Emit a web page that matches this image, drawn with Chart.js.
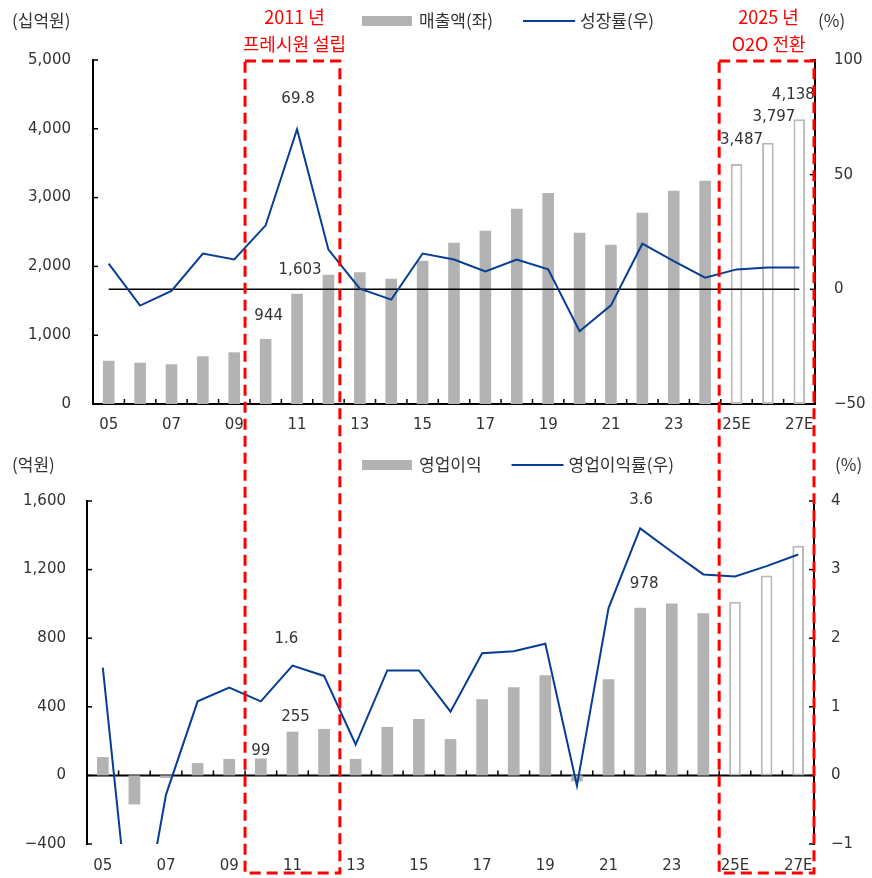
<!DOCTYPE html>
<html>
<head>
<meta charset="utf-8">
<script src="https://cdn.jsdelivr.net/npm/chart.js@4.4.1/dist/chart.umd.min.js"></script>
<style>
    body { margin: 0; background: #fff; }
    #wrap { position: relative; width: 872px; height: 878px; }
    #graficoVendas { position: absolute; left: 0; top: 0; }
    #graficoLucro { position: absolute; left: 0; top: 440px; }
    #camadaCaixas { position: absolute; left: 0; top: 0; pointer-events: none; }
</style>
</head>
<body>
<div id="wrap">
    <canvas id="graficoVendas" width="872" height="440"></canvas>
    <canvas id="graficoLucro" width="872" height="438"></canvas>
    <canvas id="camadaCaixas" width="872" height="878"></canvas>
</div>
<script>
// dados
const years = ['05', '06', '07', '08', '09', '10', '11', '12', '13', '14', '15', '16',
    '17', '18', '19', '20', '21', '22', '23', '24', '25E', '26E', '27E'];
const sales = [629, 600, 577, 693, 751, 944, 1603, 1880, 1914, 1822, 2083, 2345,
    2519, 2839, 3067, 2490, 2316, 2781, 3100, 3246, 3487, 3797, 4138];
const salesGrowth = [11.2, -7.1, -0.7, 15.6, 13.0, 27.9, 69.8, 17.3, 0.3, -4.5, 15.6, 13.0,
    7.8, 13.0, 8.7, -18.3, -7.0, 19.9, 12.3, 5.1, 8.7, 9.5, 9.5];
const opProfit = [107, -169, -15, 72, 96, 99, 255, 271, 96, 283, 329, 212,
    444, 514, 584, -35, 560, 978, 1002, 946, 1012, 1166, 1339];
const opMargin = [1.57, -2.85, -0.28, 1.08, 1.28, 1.08, 1.6, 1.45, 0.45, 1.53, 1.53, 0.93,
    1.78, 1.81, 1.92, -0.15, 2.44, 3.6, 3.26, 2.93, 2.9, 3.05, 3.22];

const salesLabelAt = [5, 6, 20, 21, 22];
const growthLabelAt = [6];
const profitLabelAt = [5, 6, 17];
const marginLabelAt = [6, 17];

const boxes = [
    { from: '10', to: '12', text: ['2011 년', '프레시원 설립'] },
    { from: '25E', to: '27E', text: ['2025 년', 'O2O 전환'] }
];

const NUM_FONT = "15px 'DejaVu Sans', 'Noto Sans CJK KR'";
const KR_FONT = "17px 'Noto Sans CJK KR', 'DejaVu Sans'";
const GRAY = '#b3b3b3';
const BLUE = '#063d95';
const TEXT = '#333';

Chart.defaults.font.family = "'DejaVu Sans', 'Noto Sans CJK KR'";
Chart.defaults.font.size = 15;
Chart.defaults.color = TEXT;

const isEst = years.map((y) => y.endsWith('E'));

function formater(v) {
    const s = Math.abs(v).toLocaleString('en-US');
    return v < 0 ? '\u2212' + s : s;
}

function linha(ctx, x1, y1, x2, y2) {
    ctx.beginPath();
    ctx.moveTo(x1, y1);
    ctx.lineTo(x2, y2);
    ctx.stroke();
}

// eixos, marcas internas, linha zero e unidades
const moldura = {
    id: 'moldura',
    beforeDatasetsDraw(chart, args, opts) {
        const { ctx, chartArea: a, scales } = chart;
        const base = scales.y.getPixelForValue(0);
        ctx.save();
        ctx.strokeStyle = '#000';
        if (opts.zeroLine) {
            ctx.lineWidth = 2;
            linha(ctx, a.left, base, a.right, base);
        }
        ctx.lineWidth = 1.5;
        for (let i = 1; i < years.length; i++) {
            const px = scales.x.getPixelForValue(i - 0.5);
            linha(ctx, px, base, px, base - 5);
        }
        scales.y.ticks.forEach((t) => {
            const py = scales.y.getPixelForValue(t.value);
            linha(ctx, a.left, py, a.left + 5, py);
        });
        scales.y1.ticks.forEach((t) => {
            const py = scales.y1.getPixelForValue(t.value);
            linha(ctx, a.right - 5, py, a.right, py);
        });
        ctx.restore();
    },
    beforeDatasetDraw(chart, args, opts) {
        if (!opts.growthBase || args.index !== 1) return;
        const { ctx, scales } = chart;
        const py = scales.y1.getPixelForValue(0);
        ctx.save();
        ctx.strokeStyle = '#000';
        ctx.lineWidth = 1.5;
        linha(ctx, scales.x.getPixelForValue(0), py, scales.x.getPixelForValue(years.length - 1), py);
        ctx.restore();
    },
    afterDraw(chart, args, opts) {
        const ctx = chart.ctx;
        ctx.save();
        ctx.font = KR_FONT;
        ctx.fillStyle = TEXT;
        ctx.textBaseline = 'middle';
        ctx.textAlign = 'left';
        ctx.fillText(opts.unitLeft, 12, opts.unitY);
        ctx.fillText('(%)', opts.unitRightX, opts.unitY);

        // legenda
        let x = 362;
        chart.data.datasets.forEach((ds) => {
            if (ds.type === 'bar') {
                ctx.fillStyle = GRAY;
                ctx.fillRect(x, opts.unitY - 5, 50, 10);
            } else {
                ctx.strokeStyle = BLUE;
                ctx.lineWidth = 2;
                linha(ctx, x, opts.unitY, x + 52, opts.unitY);
            }
            x += 57;
            ctx.fillStyle = TEXT;
            ctx.fillText(ds.label, x, opts.unitY);
            x += ctx.measureText(ds.label).width + 30;
        });
        ctx.restore();
    },
    afterDatasetsDraw(chart, args, opts) {
        const ctx = chart.ctx;
        ctx.save();
        ctx.font = NUM_FONT;
        ctx.fillStyle = TEXT;
        ctx.textAlign = 'center';
        ctx.textBaseline = 'middle';
        opts.labels.forEach((it) => {
            const meta = chart.getDatasetMeta(it.ds);
            const vals = chart.data.datasets[it.ds].data;
            it.at.forEach((i, k) => {
                const el = meta.data[i];
                ctx.fillText(it.fmt(vals[i]), el.x + it.dx[k], el.y + it.dy[k]);
            });
        });
        ctx.restore();
    }
};

function construirGrafico(canvas, cfg) {
    return new Chart(canvas, {
        data: {
            labels: years,
            datasets: [
                {
                    type: 'bar',
                    label: cfg.barLabel,
                    data: cfg.bars,
                    yAxisID: 'y',
                    order: 1,
                    backgroundColor: isEst.map((e) => e ? '#fff' : GRAY),
                    borderColor: isEst.map((e) => e ? '#b8b8b8' : GRAY),
                    borderWidth: isEst.map((e) => e ? 2 : 0),
                    borderSkipped: false,
                    categoryPercentage: 1,
                    barPercentage: 0.37
                },
                {
                    type: 'line',
                    label: cfg.lineLabel,
                    data: cfg.line,
                    yAxisID: 'y1',
                    order: 0,
                    borderColor: BLUE,
                    borderWidth: 2,
                    pointRadius: 0,
                    tension: 0
                }
            ]
        },
        options: {
            responsive: false,
            animation: false,
            devicePixelRatio: 1,
            layout: { padding: { top: cfg.top, left: 0, right: 0, bottom: 0 } },
            plugins: {
                legend: { display: false },
                tooltip: { enabled: false },
                moldura: cfg.moldura
            },
            scales: {
                x: {
                    grid: { display: false, drawTicks: false },
                    border: { display: cfg.xBorder, color: '#000', width: 2 },
                    ticks: {
                        autoSkip: false,
                        maxRotation: 0,
                        padding: cfg.xPad,
                        callback: function (v, i) { return i % 2 === 0 ? this.getLabelForValue(v) : ''; }
                    },
                    afterFit: (s) => { s.height = cfg.xHeight; }
                },
                y: {
                    position: 'left',
                    min: cfg.yMin, max: cfg.yMax,
                    grid: { display: false, drawTicks: false },
                    border: { color: '#000', width: 2 },
                    ticks: { stepSize: cfg.yStep, padding: cfg.yPad, callback: (v) => formater(v) },
                    afterFit: (s) => { s.width = cfg.leftW; }
                },
                y1: {
                    position: 'right',
                    min: cfg.y1Min, max: cfg.y1Max,
                    grid: { display: false, drawTicks: false },
                    border: { color: '#000', width: 2 },
                    ticks: { stepSize: cfg.y1Step, padding: cfg.y1Pad, callback: (v) => formater(v) },
                    afterFit: (s) => { s.width = cfg.rightW; }
                }
            }
        },
        plugins: [moldura]
    });
}

const graficoVendas = construirGrafico(document.getElementById('graficoVendas'), {
    barLabel: '매출액(좌)', lineLabel: '성장률(우)',
    bars: sales, line: salesGrowth,
    top: 60, xHeight: 36, xPad: 12, xBorder: true,
    leftW: 93, rightW: 57, yPad: 22, y1Pad: 19,
    yMin: 0, yMax: 5000, yStep: 1000,
    y1Min: -50, y1Max: 100, y1Step: 50,
    moldura: {
        zeroLine: false, growthBase: true,
        unitLeft: '(십억원)', unitRightX: 818, unitY: 21,
        labels: [
            { ds: 0, at: salesLabelAt, fmt: formater, dx: [3, 3, 5, 6, -6], dy: [-23, -24, -24, -26, -24] },
            { ds: 1, at: growthLabelAt, fmt: (v) => v.toFixed(1), dx: [1], dy: [-30] }
        ]
    }
});

const graficoLucro = construirGrafico(document.getElementById('graficoLucro'), {
    barLabel: '영업이익', lineLabel: '영업이익률(우)',
    bars: opProfit, line: opMargin,
    top: 61, xHeight: 34, xPad: 13, xBorder: false,
    leftW: 87, rightW: 58, yPad: 21, y1Pad: 17,
    yMin: -400, yMax: 1600, yStep: 400,
    y1Min: -1, y1Max: 4, y1Step: 1,
    moldura: {
        zeroLine: true, growthBase: false,
        unitLeft: '(억원)', unitRightX: 835, unitY: 25,
        labels: [
            { ds: 0, at: profitLabelAt, fmt: formater, dx: [0, 3, 4], dy: [-7, -15, -24] },
            { ds: 1, at: marginLabelAt, fmt: (v) => v.toFixed(1), dx: [-6, 1], dy: [-27, -28] }
        ]
    }
});

// caixas vermelhas tracejadas sobre os dois gráficos
(function desenharCaixas() {
    const ctx = document.getElementById('camadaCaixas').getContext('2d');
    const x = graficoLucro.scales.x;
    const topo = graficoVendas.chartArea.top + 1;
    const fundo = 440 + graficoLucro.height - 5;
    ctx.strokeStyle = '#ff0000';
    ctx.fillStyle = '#ff0000';
    ctx.lineWidth = 3;
    ctx.setLineDash([11, 6]);
    ctx.font = "18px 'Noto Sans CJK KR', 'DejaVu Sans'";
    ctx.textAlign = 'center';
    ctx.textBaseline = 'middle';
    boxes.forEach((b) => {
        const esq = x.getPixelForValue(years.indexOf(b.from) - 0.5);
        const dir = x.getPixelForValue(years.indexOf(b.to) + 0.5);
        ctx.strokeRect(esq, topo, dir - esq, fundo - topo);
        const meio = (esq + dir) / 2 + 2;
        ctx.fillText(b.text[0], meio, 17);
        ctx.fillText(b.text[1], meio, 44);
    });
})();
</script>
</body>
</html>
